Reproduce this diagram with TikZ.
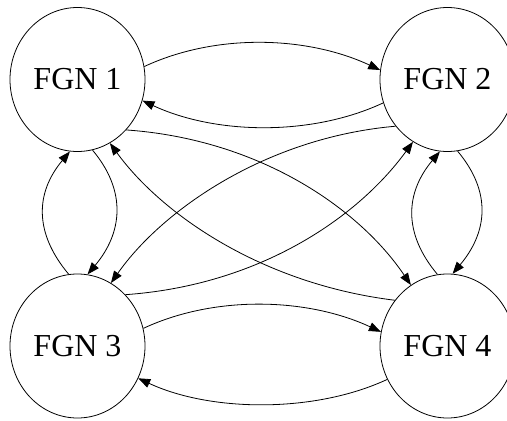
\documentclass[tikz,border=0pt]{standalone}
\usepackage{fontspec}
\setmainfont{Liberation Serif}
\usetikzlibrary{shapes.geometric,arrows.meta}
\begin{document}
\begin{tikzpicture}[x=1pt,y=1pt,
  fgn/.style={draw, ellipse, minimum width=135pt, minimum height=144pt,
    inner sep=0pt, line width=0.8pt,
    font=\fontsize{32}{32}\selectfont},
  link/.style={line width=0.8pt, -{Triangle[length=12pt,width=9pt]}}]
\useasboundingbox (0,0) rectangle (507,-421);

% the four generator nodes
\node[fgn] (n1) at (77.5,-79.5)  {FGN 1};
\node[fgn] (n2) at (447.5,-79.5) {FGN 2};
\node[fgn] (n3) at (77.5,-346)   {FGN 3};
\node[fgn] (n4) at (447.5,-346)  {FGN 4};

% horizontal pairs
\draw[link] (n1.11)  to[out=25,in=155,distance=80pt]  (n2.172);
\draw[link] (n2.200) to[out=205,in=335,distance=80pt] (n1.342);
\draw[link] (n3.15)  to[out=25,in=155,distance=80pt]  (n4.168);
\draw[link] (n4.209) to[out=205,in=335,distance=80pt] (n3.332);

% vertical pairs
\draw[link] (n3.97)  to[out=130,in=230,distance=54pt] (n1.264);
\draw[link] (n1.282) to[out=-50,in=50,distance=54pt]  (n3.82);
\draw[link] (n4.98)  to[out=130,in=230,distance=54pt] (n2.264);
\draw[link] (n2.278) to[out=-50,in=50,distance=54pt]  (n4.86);

% diagonals
\draw[link] (n1.314) to[out=-4,in=124,out distance=133pt,in distance=93pt]  (n4.121);
\draw[link] (n3.47)  to[out=4,in=234,out distance=133pt,in distance=95pt]   (n2.241);
\draw[link] (n2.222) to[out=185,in=55,out distance=131pt,in distance=88pt]  (n3.62);
\draw[link] (n4.139) to[out=173,in=306,out distance=134pt,in distance=88pt] (n1.297);
\end{tikzpicture}
\end{document}
